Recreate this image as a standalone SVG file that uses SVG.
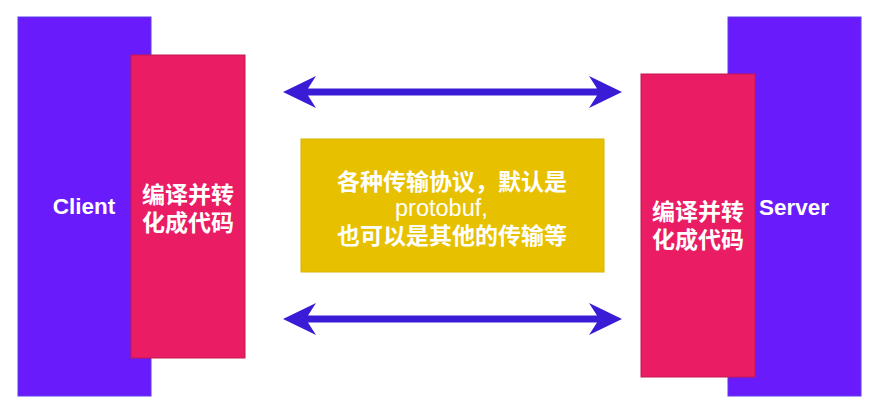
<svg xmlns="http://www.w3.org/2000/svg" width="871" height="415" viewBox="0 0 871 415">
<style>
.host{fill:#6A1BFB;stroke:#5a3cf0;stroke-width:1}
.codec{fill:#E91C64;stroke:#c4184f;stroke-width:1}
.proto{fill:#E7C100;stroke:#d9b400;stroke-width:1}
.t{font-family:"Liberation Sans","Noto Sans CJK SC",sans-serif;font-weight:bold;fill:#fff;text-anchor:middle;font-size:22.5px}
.cjk{font-family:"Noto Sans CJK SC","Liberation Sans",sans-serif;font-weight:bold;fill:#fff;text-anchor:middle;font-size:23px}
.lat{font-family:"Liberation Sans","Noto Sans CJK SC",sans-serif;fill:#fff;font-size:23.5px}
.arr{fill:#3A1CD6}
</style>
<rect width="871" height="415" fill="#fff"/>
<g id="client">
<rect class="host" x="18" y="17" width="133" height="379"/>
<text class="t" x="84" y="214">Client</text>
</g>
<g id="client-codec">
<rect class="codec" x="131" y="55" width="114" height="303"/>
<text class="cjk" x="188" y="203">编译并转</text>
<text class="cjk" x="188" y="231">化成代码</text>
</g>
<g id="server">
<rect class="host" x="728" y="17" width="133" height="379"/>
<text class="t" x="794" y="215">Server</text>
</g>
<g id="server-codec">
<rect class="codec" x="641" y="74" width="114" height="303"/>
<text class="cjk" x="698" y="220">编译并转</text>
<text class="cjk" x="698" y="248">化成代码</text>
</g>
<g id="protocol">
<rect class="proto" x="301" y="139" width="303" height="133"/>
<text class="cjk" x="452" y="190">各种传输协议，默认是</text>
<text class="lat" x="395" y="216">protobuf,</text>
<text class="cjk" x="452" y="244">也可以是其他的传输等</text>
</g>
<g id="connectors">
<path class="arr" d="M283 92 L316 76 L308 88.5 L597 88.5 L589 76 L622 92 L589 108 L597 95.5 L308 95.5 L316 108 Z"/>
<path class="arr" d="M283 319 L316 303 L308 315.5 L597 315.5 L589 303 L622 319 L589 335 L597 322.5 L308 322.5 L316 335 Z"/>
</g>
</svg>
